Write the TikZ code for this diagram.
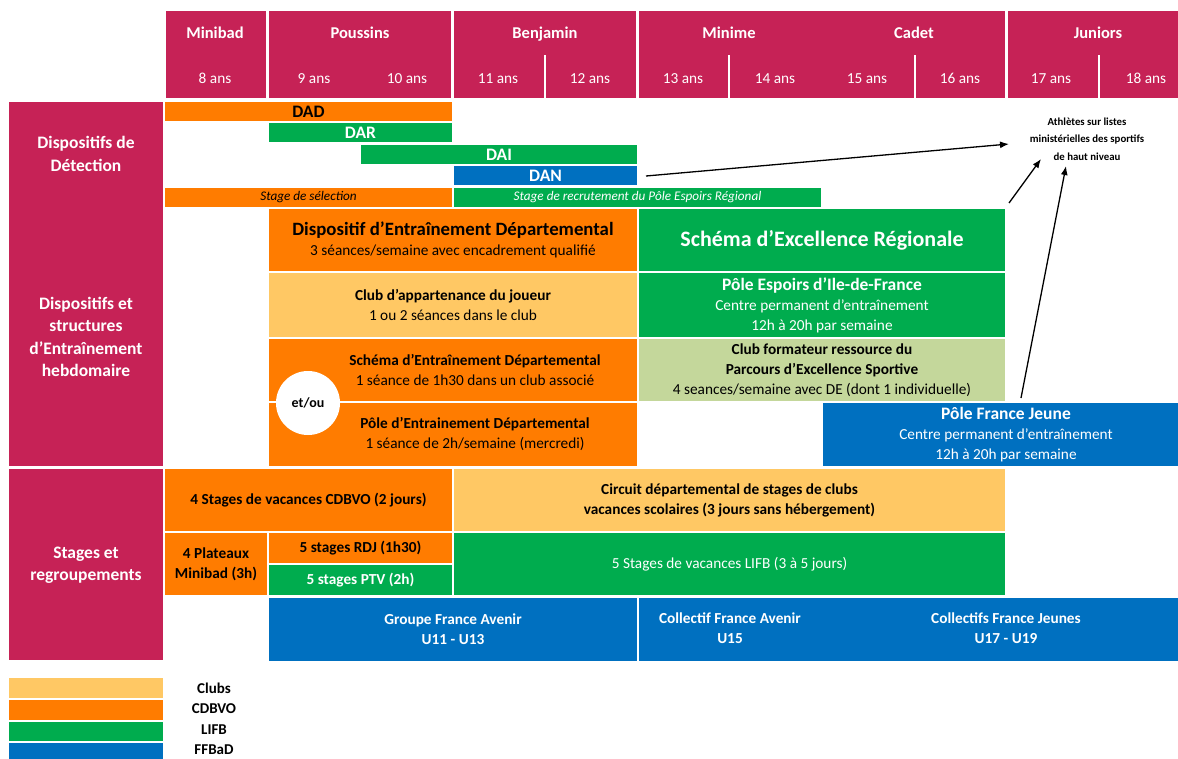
\documentclass[tikz,border=0pt]{standalone}
\usepackage{fontspec}
\setmainfont{Carlito}
\usetikzlibrary{arrows.meta}
\definecolor{pinkc}{HTML}{C62256}
\definecolor{orangec}{HTML}{FF7C00}
\definecolor{greenc}{HTML}{00AC4E}
\definecolor{bluec}{HTML}{0070C0}
\definecolor{lorange}{HTML}{FFC864}
\definecolor{lgreen}{HTML}{C4D79B}
\newcommand\bx[7]{\node[box,fill=#6,minimum width={(#4-#2)*1pt},minimum height={(#5-#3)*1pt}] (#1) at ({(#2+#4)/2},{(#3+#5)/2}) {#7};}
\tikzset{
  box/.style={draw=white,line width=1.2pt,inner sep=0pt,align=center,font=\fontsize{15.3}{20}\selectfont},
  hd/.style={text=white,anchor=base,font=\bfseries\fontsize{16.5}{18}\selectfont},
  age/.style={text=white,anchor=base,font=\fontsize{15.3}{17}\selectfont},
  lab/.style={text=white,align=center,font=\bfseries\fontsize{17.5}{22.5}\selectfont},
  legl/.style={font=\bfseries\fontsize{15}{16}\selectfont},
  inl/.style={align=center,font=\fontsize{15.3}{20}\selectfont},
  arr/.style={-{Latex[length=9pt,width=7pt]},line width=1.3pt}
}
\begin{document}
\begin{tikzpicture}[x=1pt,y=-1pt]
\useasboundingbox (0,0) rectangle (1178,758);
% header
\bx{hmin}{165}{10}{267}{99}{pinkc}{}
\bx{hpou}{268}{10}{452}{99}{pinkc}{}
\bx{hben}{453}{10}{637}{99}{pinkc}{}
\bx{hmc}{638}{10}{1006}{99}{pinkc}{}
\bx{hjun}{1007}{10}{1190}{99}{pinkc}{}
\foreach \xx in {545,729,915,1099}{\draw[white,line width=1.2pt] (\xx,55) -- (\xx,99);}
\node[hd] (tmin) at (215,38) {Minibad};
\node[hd] (tpou) at (360,38) {Poussins};
\node[hd] (tben) at (545,38) {Benjamin};
\node[hd] (tmnm) at (729,38) {Minime};
\node[hd] (tcad) at (914,38) {Cadet};
\node[hd] (tjun) at (1098,38) {Juniors};
\node[age] (a8) at (215,83) {8 ans};
\node[age] (a9) at (314,83) {9 ans};
\node[age] (a10) at (407,83) {10 ans};
\node[age] (a11) at (498,83) {11 ans};
\node[age] (a12) at (590,83) {12 ans};
\node[age] (a13) at (683,83) {13 ans};
\node[age] (a14) at (775,83) {14 ans};
\node[age] (a15) at (867,83) {15 ans};
\node[age] (a16) at (960,83) {16 ans};
\node[age] (a17) at (1051,83) {17 ans};
\node[age] (a18) at (1146,83) {18 ans};
% left labels
\bx{lbl1}{8}{101}{164}{467}{pinkc}{}
\bx{lbl2}{8}{468}{164}{661}{pinkc}{}
\node[lab] (ldet) at (86,154) {Dispositifs de\\Détection};
\node[lab] (lent) at (86,337) {Dispositifs et\\structures\\d'Entraînement\\hebdomaire};
\node[lab] (lsta) at (86,565) {Stages et\\regroupements};
% detection
\bx{dad}{164}{101}{453}{122}{orangec}{\bfseries\fontsize{17.5}{18}\selectfont DAD}
\bx{dar}{268}{122}{453}{143}{greenc}{\color{white}\bfseries\fontsize{17.5}{18}\selectfont DAR}
\bx{dai}{360}{144}{638}{165}{greenc}{\color{white}\bfseries\fontsize{17.5}{18}\selectfont DAI}
\bx{dan}{453}{165}{638}{186}{bluec}{\color{white}\bfseries\fontsize{17.5}{18}\selectfont DAN}
\bx{ssel}{164}{187}{453}{208}{orangec}{\itshape\fontsize{13.2}{14}\selectfont Stage de sélection}
\bx{srec}{453}{187}{822}{208}{greenc}{\color{white}\itshape\fontsize{13.2}{14}\selectfont Stage de recrutement du Pôle Espoirs Régional}
% weekly training
\bx{ded}{268}{208}{638}{272}{orangec}{{\bfseries\fontsize{18.8}{22}\selectfont Dispositif d'Entraînement Départemental}\\3 séances/semaine avec encadrement qualifié}
\bx{club}{268}{272}{638}{338}{lorange}{\bfseries Club d'appartenance du joueur\\1 ou 2 séances dans le club}
\bx{sed}{268}{338}{638}{402}{orangec}{}
\bx{ped}{268}{402}{638}{467}{orangec}{}
\node[inl] (tsed) at (475,370) {\bfseries Schéma d'Entraînement Départemental\\1 séance de 1h30 dans un club associé};
\node[inl] (tped) at (475,434) {\bfseries Pôle d’Entrainement Départemental\\1 séance de 2h/semaine (mercredi)};
\node[circle,fill=white,minimum size=64pt,inner sep=0pt,font=\bfseries\fontsize{14}{15}\selectfont] (etou) at (308,403) {et/ou};
\bx{ser}{638}{208}{1006}{272}{greenc}{\color{white}\bfseries\fontsize{22}{24}\selectfont Schéma d'Excellence Régionale}
\bx{pei}{638}{272}{1006}{338}{greenc}{\color{white}{\bfseries\fontsize{17.5}{20.5}\selectfont Pôle Espoirs d'Ile-de-France}\\\color{white}Centre permanent d'entraînement\\\color{white}12h à 20h par semaine}
\bx{cfr}{638}{338}{1006}{402}{lgreen}{\bfseries Club formateur ressource du\\\bfseries Parcours d'Excellence Sportive\\4 seances/semaine avec DE (dont 1 individuelle)}
\bx{pfj}{822}{402}{1190}{467}{bluec}{\color{white}{\bfseries\fontsize{17.5}{20.5}\selectfont Pôle France Jeune}\\\color{white}Centre permanent d'entraînement\\\color{white}12h à 20h par semaine}
% stages
\bx{svc}{164}{468}{453}{532}{orangec}{\bfseries 4 Stages de vacances CDBVO (2 jours)}
\bx{cir}{453}{468}{1006}{532}{lorange}{\bfseries Circuit départemental de stages de clubs\\\bfseries vacances scolaires (3 jours sans hébergement)}
\bx{plt}{164}{532}{268}{596}{orangec}{\bfseries 4 Plateaux\\\bfseries Minibad (3h)}
\bx{rdj}{268}{532}{453}{564}{orangec}{\bfseries 5 stages RDJ (1h30)}
\bx{ptv}{268}{564}{453}{596}{greenc}{\color{white}\bfseries 5 stages PTV (2h)}
\bx{lifb}{453}{532}{1006}{596}{greenc}{\color{white}5 Stages de vacances LIFB (3 à 5 jours)}
\bx{gfa}{268}{597}{638}{662}{bluec}{\color{white}\bfseries Groupe France Avenir\\\color{white}\bfseries U11 - U13}
\bx{cfa}{638}{597}{1190}{662}{bluec}{}
\node[text=white,align=center,font=\bfseries\fontsize{15.3}{20}\selectfont] (tcfa) at (730,628) {Collectif France Avenir\\U15};
\node[text=white,align=center,font=\bfseries\fontsize{15.3}{20}\selectfont] (tcfj) at (1006,628) {Collectifs France Jeunes\\U17 - U19};
% athletes
\node[align=center,font=\bfseries\fontsize{10.8}{17.5}\selectfont] (ath) at (1087,139) {Athlètes sur listes\\ministérielles des sportifs\\de haut niveau};
\coordinate (ar1) at (646,176);
\coordinate (ae1) at (1009,144);
\coordinate (ar2) at (1009,203);
\coordinate (ae2) at (1041,159);
\coordinate (ar3) at (1021,398);
\coordinate (ae3) at (1066,166);
\draw[arr] (ar1) -- (ae1);
\draw[arr] (ar2) -- (ae2);
\draw[arr] (ar3) -- (ae3);
% legend
\bx{k1}{8}{677}{164}{699}{lorange}{}
\bx{k2}{8}{699}{164}{721}{orangec}{}
\bx{k3}{8}{721}{164}{742}{greenc}{}
\bx{k4}{8}{742}{164}{764}{bluec}{}
\node[legl] (l1) at (214,688) {Clubs};
\node[legl] (l2) at (214,709) {CDBVO};
\node[legl] (l3) at (214,730) {LIFB};
\node[legl] (l4) at (214,750) {FFBaD};
\end{tikzpicture}
\end{document}
